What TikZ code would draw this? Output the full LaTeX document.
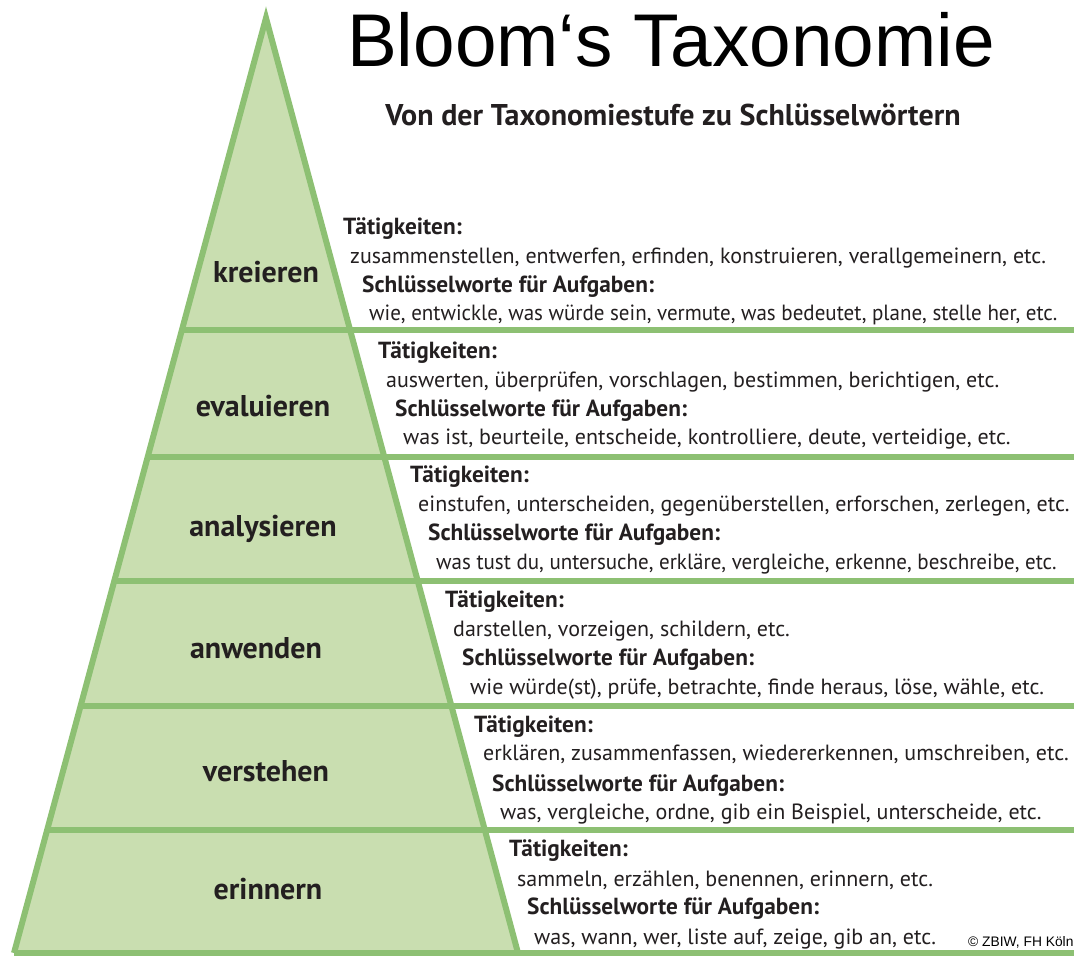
\documentclass[tikz,border=0pt]{standalone}
\usepackage{fontspec}
\setmainfont{PT Sans}
\newfontfamily\titlefont{Liberation Sans}
\definecolor{pyrfill}{RGB}{201,222,176}
\definecolor{pyrline}{RGB}{141,192,115}
\definecolor{ink}{RGB}{35,31,32}
\begin{document}
\begin{tikzpicture}[x=1pt,y=-1pt,
  lvl/.style={font=\fontsize{30}{30}\selectfont\bfseries, text=ink, inner sep=0pt, anchor=base},
  headtxt/.style={font=\fontsize{23.3}{23.3}\selectfont\bfseries, text=ink, inner sep=0pt, anchor=base west},
  bodytxt/.style={font=\fontsize{22}{22}\selectfont, text=ink, inner sep=0pt, anchor=base west},
  pyr/.style={draw=pyrline, line width=6pt},
]
\useasboundingbox (0,0) rectangle (1074,959);
\fill[white] (0,0) rectangle (1074,959);
% pyramid
\coordinate (apex) at (266,18);
\coordinate (bl) at (14,953);
\coordinate (br) at (518,953);
\fill[pyrfill] (bl) -- (apex) -- (br) -- cycle;
\foreach \yy/\xx in {330/181.9, 457/147.7, 581/114.3, 706/80.6, 830/47.2}
  \draw[pyr] (\xx,\yy) -- (1080,\yy);
\draw[pyr] (bl) -- (1080,953);
\draw[pyr, line join=miter] (bl) -- (apex) -- (br);
% title
\node[font=\titlefont\fontsize{74.7}{74.7}\selectfont, inner sep=0pt, anchor=base] (title) at (671,66) {Bloom‘s Taxonomie};
\node[font=\fontsize{30}{30}\selectfont\bfseries, text=ink, inner sep=0pt, anchor=base] (subtitle) at (673,125) {Von der Taxonomiestufe zu Schlüsselwörtern};
% levels
\node[lvl] (l1) at (266,282) {kreieren};
\node[lvl] (l2) at (263,416) {evaluieren};
\node[lvl] (l3) at (263,536) {analysieren};
\node[lvl] (l4) at (256,658) {anwenden};
\node[lvl] (l5) at (266,781) {verstehen};
\node[lvl] (l6) at (268,899) {erinnern};
% level 1
\node[headtxt] (t1) at (343,234) {Tätigkeiten:};
\node[bodytxt] (a1) at (350,263) {zusammenstellen, entwerfen, erfinden, konstruieren, verallgemeinern, etc.};
\node[headtxt] (s1) at (362,292) {Schlüsselworte für Aufgaben:};
\node[bodytxt] (k1) at (369,320) {\scalebox{0.955}[1]{wie, entwickle, was würde sein, vermute, was bedeutet, plane, stelle her, etc.}};
% level 2
\node[headtxt] (t2) at (378,358) {Tätigkeiten:};
\node[bodytxt] (a2) at (386,387) {auswerten, überprüfen, vorschlagen, bestimmen, berichtigen, etc.};
\node[headtxt] (s2) at (395,416) {Schlüsselworte für Aufgaben:};
\node[bodytxt] (k2) at (403,444) {was ist, beurteile, entscheide, kontrolliere, deute, verteidige, etc.};
% level 3
\node[headtxt] (t3) at (410,482) {Tätigkeiten:};
\node[bodytxt] (a3) at (418,511) {einstufen, unterscheiden, gegenüberstellen, erforschen, zerlegen, etc.};
\node[headtxt] (s3) at (428,540) {Schlüsselworte für Aufgaben:};
\node[bodytxt] (k3) at (436,569) {\scalebox{0.955}[1]{was tust du, untersuche, erkläre, vergleiche, erkenne, beschreibe, etc.}};
% level 4
\node[headtxt] (t4) at (445,607) {Tätigkeiten:};
\node[bodytxt] (a4) at (453,636) {darstellen, vorzeigen, schildern, etc.};
\node[headtxt] (s4) at (462,665) {Schlüsselworte für Aufgaben:};
\node[bodytxt] (k4) at (470,694) {wie würde(st), prüfe, betrachte, finde heraus, löse, wähle, etc.};
% level 5
\node[headtxt] (t5) at (474,732) {Tätigkeiten:};
\node[bodytxt] (a5) at (483,760) {erklären, zusammenfassen, wiedererkennen, umschreiben, etc.};
\node[headtxt] (s5) at (492,791) {Schlüsselworte für Aufgaben:};
\node[bodytxt] (k5) at (500,819) {was, vergleiche, ordne, gib ein Beispiel, unterscheide, etc.};
% level 6
\node[headtxt] (t6) at (509,856) {Tätigkeiten:};
\node[bodytxt] (a6) at (517,886) {sammeln, erzählen, benennen, erinnern, etc.};
\node[headtxt] (s6) at (527,914) {Schlüsselworte für Aufgaben:};
\node[bodytxt] (k6) at (534,944) {was, wann, wer, liste auf, zeige, gib an, etc.};
\node[font=\titlefont\fontsize{13.8}{13.8}\selectfont, inner sep=0pt, anchor=base west] (copy) at (968,946) {© ZBIW, FH Köln};
\end{tikzpicture}
\end{document}
